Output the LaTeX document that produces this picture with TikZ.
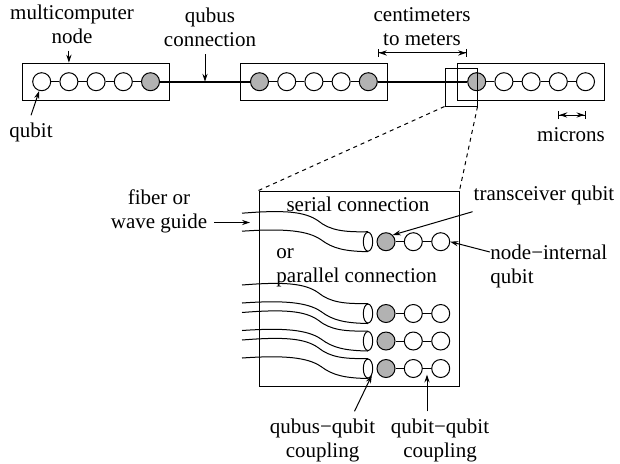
\documentclass[tikz,border=0pt]{standalone}
\usepackage{fontspec}
\setmainfont{Liberation Serif}
\usetikzlibrary{arrows.meta,calc,fit,shapes.geometric}
\definecolor{qgray}{gray}{0.7}

\begin{document}
\begin{tikzpicture}[x=0.5pt, y=-0.5pt, line width=0.5pt,
    font=\fontsize{10.5}{12}\selectfont,
    qubit/.style={circle, draw, fill=#1, minimum size=9pt, inner sep=0pt},
    qubit/.default=white,
    fiberend/.style={ellipse, draw, minimum width=4.7pt, minimum height=9.5pt, inner sep=0pt},
    lbl/.style={align=center},
    arr/.style={-{Stealth[length=4pt, width=2.6pt]}},
    dim/.style={{Bar[width=4pt]Stealth[length=4pt, width=2.6pt]}-{Stealth[length=4pt, width=2.6pt]Bar[width=4pt]}},
    bus/.style={line width=1pt}]

    \useasboundingbox (0,0) rectangle (620,463);

    % Three multicomputer nodes along the qubus
    \foreach \nd/\x/\ff/\fl in {A/41.7/white/qgray, B/259.5/qgray/qgray, C/476.7/qgray/white} {
        \node[qubit=\ff] (\nd1) at (\x, 81.7) {};
        \foreach \i in {2,3,4}
            \node[qubit] (\nd\i) at (\x+27.2*\i-27.2, 81.7) {};
        \node[qubit=\fl] (\nd5) at (\x+108.8, 81.7) {};
        % Links inside the node
        \foreach \i [evaluate=\i as \j using int(\i+1)] in {1,...,4}
            \draw (\nd\i) -- (\nd\j);
        \node[draw, fit=(\nd1)(\nd5), inner xsep=4.75pt, inner ysep=4.5pt] (box\nd) {};
    }

    % Qubus between the nodes
    \draw[bus] (A5) -- (B1);
    \draw[bus] (B5) -- (C1);

    % Zoomed part and its blow-up
    \node[draw, minimum width=16pt, minimum height=19pt, inner sep=0pt] (zoom) at (461, 87) {};
    \node[draw, minimum width=100pt, minimum height=97.5pt, inner sep=0pt] (big) at (359, 288.5) {};
    \draw[dash pattern=on 2pt off 2pt] (zoom.south west) -- (big.north west);
    \draw[dash pattern=on 2pt off 2pt] (zoom.south east) -- (big.north east);

    % Serial row (first) and parallel rows, each with its fiber
    \foreach \y [count=\n] in {241.7, 313.5, 341, 368.5} {
        \node[fiberend] (end\n) at (368, \y) {};
        \draw (242, \y-28.5) .. controls (285, \y-32) and (305, \y-30) .. (318, \y-21)
              .. controls (330, \y-11) and (345, \y-9.5) .. (end\n.north);
        \draw (242, \y-10.5) .. controls (285, \y-13.5) and (308, \y-11) .. (321, \y-2)
              .. controls (333, \y+7) and (345, \y+9.5) .. (end\n.south);
        \node[qubit=qgray] (S\n1) at (386, \y) {};
        \node[qubit] (S\n2) at (413.3, \y) {};
        \node[qubit] (S\n3) at (440.7, \y) {};
        \draw (S\n1) -- (S\n2) -- (S\n3);
    }

    % Labels
    \node[lbl] (mcn) at (72, 24) {multicomputer\\node};
    \node[lbl] (qc) at (210, 27.5) {qubus\\connection};
    \node (ql) at (31, 132) {qubit};
    \node[lbl] (cm) at (422, 26.7) {centimeters\\to meters};
    \node (mic) at (571, 135) {microns};
    \node[lbl] (fwg) at (159, 211.7) {fiber or\\wave guide};
    \node (sc) at (358, 204) {serial connection};
    \node[align=left, anchor=west] (pc) at (269.3, 268) {or\\parallel connection};
    \node (tq) at (544, 195) {transceiver qubit};
    \node[align=left, anchor=west] (ni) at (483.3, 266) {node−internal\\qubit};
    \node[lbl] (qqc) at (322.5, 440) {qubus−qubit\\coupling};
    \node[lbl] (qqk) at (440, 440) {qubit−qubit\\coupling};

    % Pointers
    \draw[arr] (mcn.south -| A2) -- (boxA.north -| A2);
    \coordinate (tap) at ($(A5)!0.5!(B1)$);
    \draw[arr] (qc.south -| tap) -- (tap);
    \draw[arr] (ql.north) -- (A1.255);
    \draw[dim] (B5.east |- cm.south) -- (C1.west |- cm.south);
    \coordinate (mu1) at ($(C4)+(0,33.3)$);
    \coordinate (mu2) at ($(C5)+(0,33.3)$);
    \draw[dim] (mu1) -- (mu2);
    \coordinate (wg) at (250, 222.5);
    \draw[arr] (fwg.east |- wg) -- (wg);
    \draw[arr] ([xshift=3pt]tq.south west) -- (S11.45);
    \draw[arr] ([xshift=3.3pt, yshift=7pt]ni.west) -- (S13.east);
    \draw[arr] ([xshift=16pt]qqc.north) -- (end4.300);
    \coordinate (cpl) at ($(S42)!0.5!(S43)$);
    \draw[arr, shorten >=3pt] (qqk.north -| cpl) -- (cpl);

\end{tikzpicture}
\end{document}
